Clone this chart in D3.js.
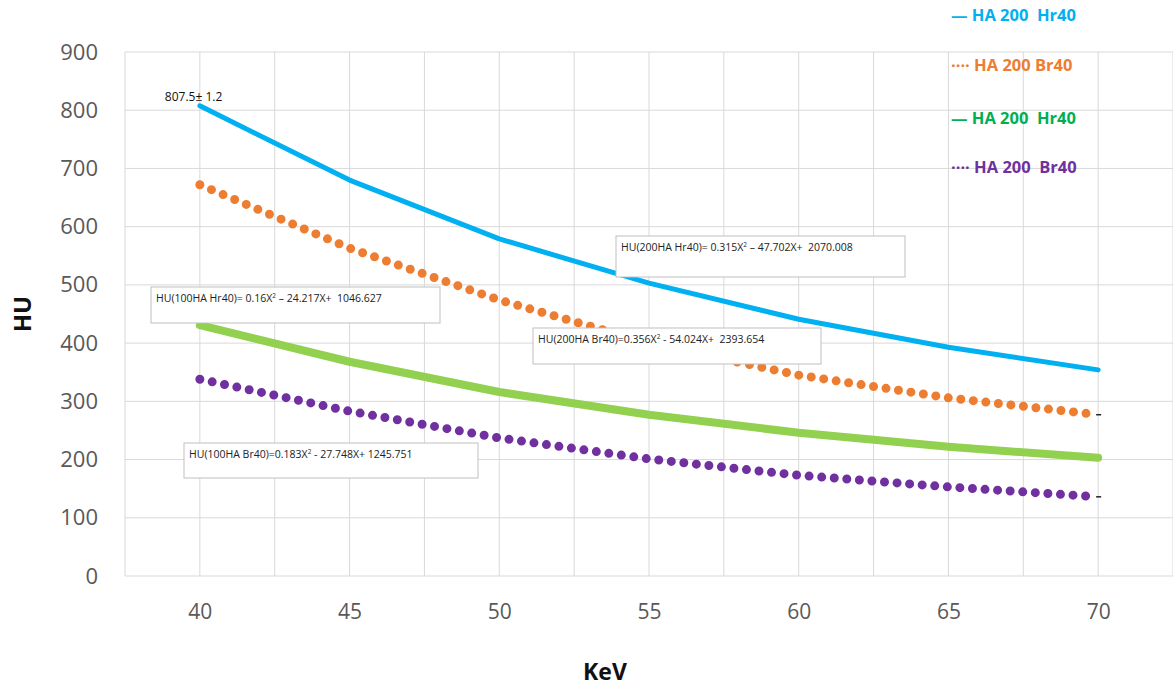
<!DOCTYPE html>
<html>
<head>
<meta charset="utf-8">
<script src="https://cdn.jsdelivr.net/npm/d3@7"></script>
<style>
  body { margin: 0; background: #fff; }
  text { font-family: "Open Sans", "DejaVu Sans", sans-serif; }
</style>
</head>
<body>
<div id="chart"></div>
<script>
// data
const kev = [40, 45, 50, 55, 60, 65, 70];
const ha200Hr40 = [807.5, 680, 579, 503, 441, 393, 354];
const ha200Br40 = [672, 563, 474, 400, 345, 306, 277];
const ha100Hr40 = [431, 368, 316, 277, 246, 222, 203];
const ha100Br40 = [338, 283, 237, 201, 173, 153, 136];
const xTicks = [40, 45, 50, 55, 60, 65, 70];
const yTicks = [0, 100, 200, 300, 400, 500, 600, 700, 800, 900];
const legendLabels = ["— HA 200  Hr40", "···· HA 200 Br40", "— HA 200  Hr40", "···· HA 200  Br40"];
const equations = [
  ["HU(200HA Hr40)= 0.315X", " – 47.702X+  2070.008"],
  ["HU(100HA Hr40)= 0.16X", " – 24.217X+  1046.627"],
  ["HU(200HA Br40)=0.356X", " - 54.024X+  2393.654"],
  ["HU(100HA Br40)=0.183X", " - 27.748X+ 1245.751"]
];

const W = 1173, H = 686;
const margin = { top: 52, right: 0, bottom: 110, left: 125 };

const svg = d3.select("#chart").append("svg")
  .attr("width", W).attr("height", H);

const x = d3.scaleLinear().domain([37.5, 72.5]).range([margin.left, W - margin.right]);
const y = d3.scaleLinear().domain([0, 900]).range([H - margin.bottom, margin.top]);

// grid
const gridX = d3.range(37.5, 72.6, 2.5);
svg.append("g").selectAll("line").data(gridX).enter().append("line")
  .attr("x1", d => x(d)).attr("x2", d => x(d))
  .attr("y1", y(0)).attr("y2", y(900))
  .attr("stroke", "#d9d9d9").attr("stroke-width", 1);
svg.append("g").selectAll("line").data(yTicks).enter().append("line")
  .attr("x1", x(37.5)).attr("x2", x(72.5))
  .attr("y1", d => y(d)).attr("y2", d => y(d))
  .attr("stroke", "#d9d9d9").attr("stroke-width", 1);

// axes (labels only)
const yAxis = svg.append("g")
  .attr("transform", `translate(${margin.left},0)`)
  .call(d3.axisLeft(y).tickValues(yTicks).tickSize(0).tickPadding(27));
yAxis.select(".domain").remove();
yAxis.selectAll("text").attr("font-size", 22).attr("fill", "#595959")
  .style("font-family", "'Open Sans', sans-serif");

const xAxis = svg.append("g")
  .attr("transform", `translate(0,${y(0)})`)
  .call(d3.axisBottom(x).tickValues(xTicks).tickSize(0).tickPadding(28));
xAxis.select(".domain").remove();
xAxis.selectAll("text").attr("font-size", 21).attr("fill", "#595959")
  .style("font-family", "'Open Sans', sans-serif");

// axis titles
svg.append("text")
  .attr("transform", `translate(31,${(y(0) + y(900)) / 2}) rotate(-90)`)
  .attr("text-anchor", "middle")
  .attr("font-size", 24).attr("font-weight", "bold").attr("fill", "#111")
  .text("HU");
svg.append("text")
  .attr("x", 605).attr("y", 680)
  .attr("text-anchor", "middle")
  .attr("font-size", 23).attr("font-weight", "bold").attr("fill", "#111")
  .text("KeV");

// series
const series = [
  { vals: ha200Hr40, color: "#00b0f0", width: 5, dash: null },
  { vals: ha200Br40, color: "#ed7d31", width: 9, dash: "0 12.6" },
  { vals: ha100Hr40, color: "#92d050", width: 8, dash: null },
  { vals: ha100Br40, color: "#7030a0", width: 9, dash: "0 12.6" }
];

const line = d3.line()
  .x((d, i) => x(kev[i]))
  .y(d => y(d));

series.forEach(s => {
  svg.append("path")
    .datum(s.vals)
    .attr("d", line)
    .attr("fill", "none")
    .attr("stroke", s.color)
    .attr("stroke-width", s.width)
    .attr("stroke-linecap", "round")
    .attr("stroke-linejoin", "round")
    .attr("stroke-dasharray", s.dash);
});

// tiny black markers at the end of the dotted series
[ha200Br40, ha100Br40].forEach(v => {
  svg.append("line")
    .attr("x1", x(70) - 2).attr("x2", x(70) + 3)
    .attr("y1", y(v[v.length - 1])).attr("y2", y(v[v.length - 1]))
    .attr("stroke", "#222").attr("stroke-width", 1.5);
});

// value label
svg.append("text")
  .attr("x", x(40) - 35).attr("y", y(ha200Hr40[0]) - 5)
  .attr("font-size", 12).attr("fill", "#111")
  .text("807.5± 1.2");

// equation boxes
const boxes = [
  { x0: 616, y0: 236, w: 289, h: 41 },
  { x0: 151, y0: 287, w: 289, h: 36 },
  { x0: 533, y0: 328, w: 288, h: 36 },
  { x0: 184, y0: 443, w: 294, h: 35 }
];
boxes.forEach((b, i) => {
  const g = svg.append("g").attr("transform", `translate(${b.x0},${b.y0})`);
  g.append("rect").attr("width", b.w).attr("height", b.h)
    .attr("fill", "#fff").attr("stroke", "#bfbfbf").attr("stroke-width", 1);
  const t = g.append("text").attr("x", 5).attr("y", 15)
    .attr("font-size", 10.5).attr("fill", "#222")
    .style("white-space", "pre");
  t.append("tspan").text(equations[i][0]);
  t.append("tspan").attr("font-size", 6.5).attr("dy", -4).text("2");
  t.append("tspan").attr("dy", 4).text(equations[i][1]);
});

// legend
const legendColors = ["#00b0f0", "#ed7d31", "#00b050", "#7030a0"];
const legendY = [21, 71, 124, 173];
svg.append("g").selectAll("text").data(legendLabels).enter().append("text")
  .attr("x", 951).attr("y", (d, i) => legendY[i])
  .attr("font-size", 16.5).attr("font-weight", "bold")
  .attr("fill", (d, i) => legendColors[i])
  .style("white-space", "pre")
  .text(d => d);
</script>
</body>
</html>
